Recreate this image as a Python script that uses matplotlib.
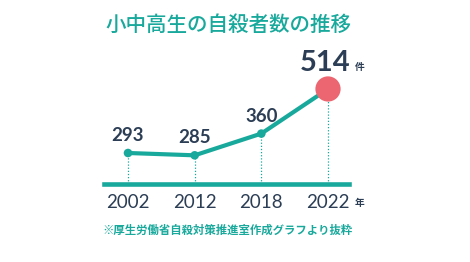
import matplotlib
matplotlib.use("Agg")
import matplotlib.pyplot as plt

years = ["2002", "2012", "2018", "2022"]
counts = [293, 285, 360, 514]
title = "小中高生の自殺者数の推移"
unit_count = "件"
unit_year = "年"
note = "※厚生労働省自殺対策推進室作成グラフより抜粋"

TEAL = "#19a99c"
NAVY = "#2c3e55"
RED = "#eb6670"
JP = ["Noto Sans CJK JP", "DejaVu Sans"]
NUM = ["Lato", "DejaVu Sans"]

fig = plt.figure(figsize=(4.7, 2.62), dpi=100)
fig.patch.set_facecolor("white")
ax = fig.add_axes([104/470, (262-184)/262, 245/470, 144/262])
ax.set_xlim(-0.36, 3.315)
ax.set_ylim(186, 683)
ax.axis("off")

x = list(range(len(years)))
ybot = ax.get_ylim()[0]

# dotted drop lines
for xi, c in zip(x, counts):
    ax.plot([xi, xi], [ybot, c], color=TEAL, lw=0.9, ls=(0, (1, 1.5)), zorder=1)

# baseline
ax.axhline(ybot, color=TEAL, lw=3.3, clip_on=False, zorder=2)

# line
ax.plot(x, counts, color=TEAL, lw=3.0, zorder=3, solid_capstyle="round")
ax.scatter(x[:-1], counts[:-1], s=38, color=TEAL, zorder=4, edgecolors="none")
ax.scatter(x[-1:], counts[-1:], s=330, color=RED, zorder=5, edgecolors="none")

# value labels
for xi, c in zip(x[:-1], counts[:-1]):
    ax.annotate(str(c), (xi, c), xytext=(0, 12.5), textcoords="offset points",
                ha="center", va="center", fontsize=13.5, fontweight="bold",
                color=NAVY, family=NUM)
ax.annotate(str(counts[-1]), (x[-1], counts[-1]), xytext=(-2, 19),
            textcoords="offset points", ha="center", va="center",
            fontsize=21, fontweight="bold", color=NAVY, family=NUM)
ax.annotate(unit_count, (x[-1], counts[-1]), xytext=(22.5, 16),
            textcoords="offset points", ha="center", va="center",
            fontsize=7, fontweight="bold", color=NAVY, family=JP)

# year labels
for xi, yr in zip(x, years):
    ax.annotate(yr, (xi, 0), xycoords=("data", "axes fraction"),
                xytext=(0, -13.5), textcoords="offset points",
                ha="center", va="center", fontsize=13.5, color=NAVY, family=NUM)
ax.annotate(unit_year, (x[-1], 0), xycoords=("data", "axes fraction"),
            xytext=(23, -13.5), textcoords="offset points",
            ha="center", va="center", fontsize=7, fontweight="bold",
            color=NAVY, family=JP)

fig.text(228/470, 1 - 25/262, title, ha="center", va="center",
         fontsize=14.8, color=TEAL, family=JP, fontweight="medium")
fig.text(102/470, 1 - 230/262, note, ha="left", va="center",
         fontsize=8.2, color=TEAL, family=JP, fontweight="bold")

fig.savefig("out.png", dpi=100, facecolor="white")
